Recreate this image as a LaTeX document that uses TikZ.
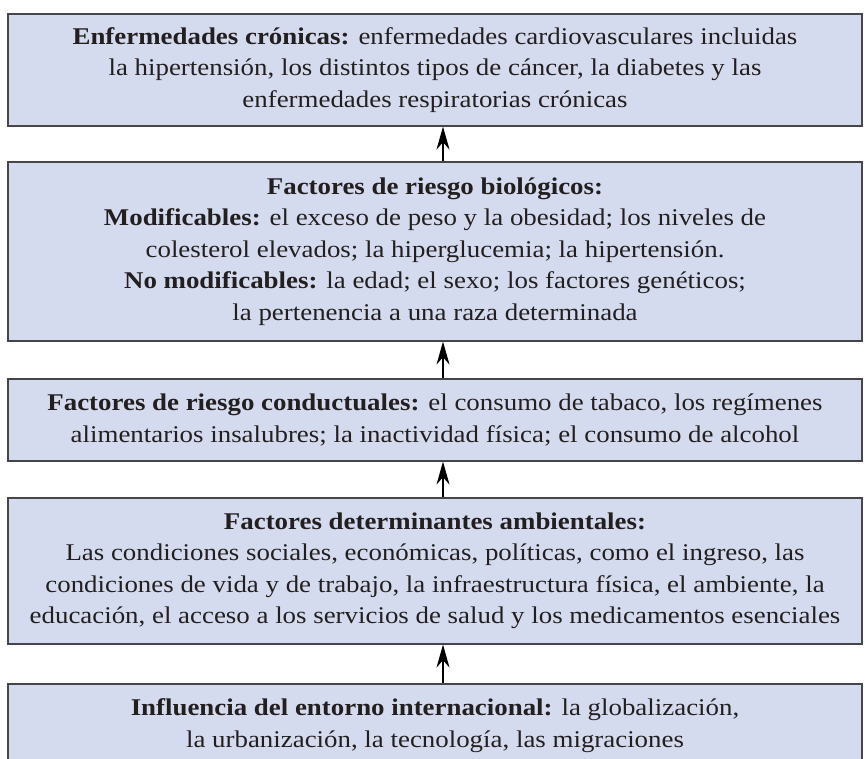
\documentclass[tikz,border=0pt]{standalone}
\usepackage{fontspec}
\setmainfont{Liberation Serif}[FakeStretch=1.12]
\usetikzlibrary{arrows.meta}

\definecolor{fondocaja}{RGB}{213,219,238}
\definecolor{bordecaja}{RGB}{70,70,74}
\definecolor{textocaja}{RGB}{35,31,32}

\begin{document}
\begin{tikzpicture}[x=1pt,y=-1pt,
    every node/.style={font=\fontsize{24}{31.5}\selectfont,text=textocaja},
    caja/.style={rectangle,draw=bordecaja,line width=1.6pt,fill=fondocaja,
        minimum width=854pt,inner sep=0pt,align=center,anchor=north},
    flecha/.style={-{Stealth[length=23pt,width=13pt]},line width=1.3pt,black}]
    \useasboundingbox (0,0) rectangle (865,758);

    % Boxes, from top to bottom
    \node[caja,minimum height=112pt] (cronicas) at (435,13)
        {\textbf{Enfermedades crónicas:} enfermedades cardiovasculares incluidas\\
         la hipertensión, los distintos tipos de cáncer, la diabetes y las\\
         enfermedades respiratorias crónicas};
    \node[caja,minimum height=179pt] (biologicos) at (435,161)
        {\textbf{Factores de riesgo biológicos:}\\
         \textbf{Modificables:} el exceso de peso y la obesidad; los niveles de\\
         colesterol elevados; la hiperglucemia; la hipertensión.\\
         \textbf{No modificables:} la edad; el sexo; los factores genéticos;\\
         la pertenencia a una raza determinada};
    \node[caja,minimum height=82pt] (conductuales) at (435,378)
        {\textbf{Factores de riesgo conductuales:} el consumo de tabaco, los regímenes\\
         alimentarios insalubres; la inactividad física; el consumo de alcohol};
    \node[caja,minimum height=146pt] (ambientales) at (435,497)
        {\textbf{Factores determinantes ambientales:}\\
         Las condiciones sociales, económicas, políticas, como el ingreso, las\\
         condiciones de vida y de trabajo, la infraestructura física, el ambiente, la\\
         educación, el acceso a los servicios de salud y los medicamentos esenciales};
    \node[caja,minimum height=84pt] (internacional) at (435,683)
        {\textbf{Influencia del entorno internacional:} la globalización,\\
         la urbanización, la tecnología, las migraciones};

    % Arrows
    \coordinate (eje) at (443,0);
    \draw[flecha] (biologicos.north -| eje) -- (cronicas.south -| eje);
    \draw[flecha] (conductuales.north -| eje) -- (biologicos.south -| eje);
    \draw[flecha] (ambientales.north -| eje) -- (conductuales.south -| eje);
    \draw[flecha] (internacional.north -| eje) -- (ambientales.south -| eje);
\end{tikzpicture}
\end{document}
